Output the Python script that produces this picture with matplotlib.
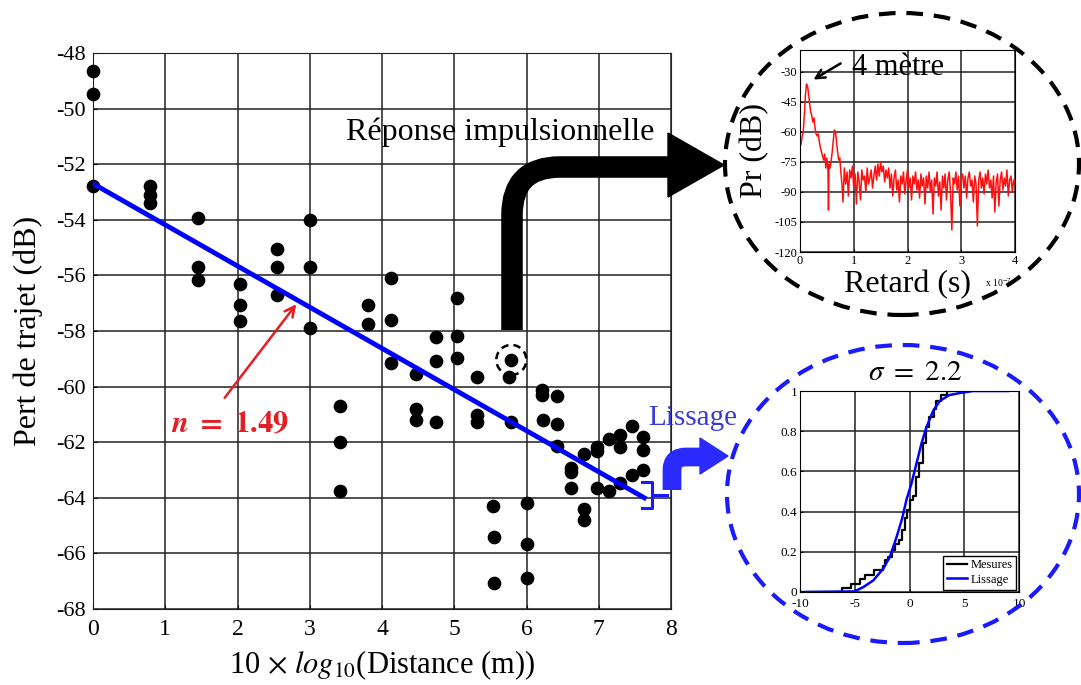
import numpy as np
import matplotlib
matplotlib.use('Agg')
import matplotlib.pyplot as plt
from matplotlib.patches import Ellipse, PathPatch, Polygon
from matplotlib.path import Path

plt.rcParams['font.family'] = 'serif'
plt.rcParams['font.serif'] = ['Liberation Serif', 'DejaVu Serif']
plt.rcParams['mathtext.fontset'] = 'stix'
plt.rcParams['axes.unicode_minus'] = False

W, H = 1081, 685

# --- main scatter : path loss vs 10*log10(distance)
dist = [0.0, 0.0, 0.0, 0.79, 0.79, 0.79, 1.46, 1.46, 1.46, 2.04, 2.04, 2.04,
        2.55, 2.55, 2.55, 3.01, 3.01, 3.01, 3.8, 3.8, 4.13, 4.13, 4.13,
        5.04, 4.75, 5.04, 4.75, 5.04, 4.47, 5.31, 5.79, 5.76,
        3.42, 3.42, 3.42, 4.47, 4.47, 4.75, 5.31, 5.31, 5.78,
        6.21, 6.21, 6.42, 6.23, 6.42, 6.42, 6.61, 6.61, 6.61,
        6.79, 6.97, 6.97, 7.14, 7.3, 7.3, 7.46, 7.61, 7.61, 7.61, 7.46,
        6.98, 7.14, 7.3, 5.54, 6.01, 6.8, 6.8, 5.55, 6.01, 5.55, 6.01]
loss = [-48.64, -49.47, -52.77, -52.77, -53.1, -53.4, -53.95, -55.68, -56.17,
        -56.3, -57.07, -57.64, -55.05, -55.68, -56.7, -54.0, -55.68, -57.9,
        -57.07, -57.75, -56.08, -57.6, -59.16, -56.8, -58.2, -58.17, -59.08,
        -58.96, -59.55, -59.67, -59.04, -59.67, -60.7, -61.98, -63.74,
        -60.82, -61.2, -61.26, -61.02, -61.26, -61.26, -60.12, -60.3, -60.33,
        -61.2, -61.35, -62.12, -62.94, -63.06, -63.66, -62.42, -62.16, -62.3,
        -61.9, -61.74, -62.16, -61.42, -61.8, -62.28, -63.0, -63.18, -63.63,
        -63.76, -63.48, -64.3, -64.2, -64.41, -64.8, -65.4, -65.66, -67.05,
        -66.87]
fit_x = [0.0, 7.63]
fit_y = [-52.7, -64.0]
picked = (5.79, -59.04)

# --- impulse response (delay in 1e-7 s, power in dB)
sig_x_a = [0.00, 0.02, 0.04, 0.06, 0.08, 0.10, 0.12, 0.14, 0.16, 0.18, 0.20,
           0.22, 0.24, 0.26, 0.28, 0.30, 0.32, 0.34, 0.36, 0.38, 0.40, 0.42,
           0.44, 0.46, 0.48, 0.50, 0.52, 0.53, 0.54, 0.56, 0.58, 0.60, 0.62,
           0.64, 0.66, 0.68, 0.70, 0.72, 0.74, 0.76, 0.78, 0.80]
sig_y_a = [-67, -66, -62, -60, -52, -42, -36, -37, -41, -46, -50, -52, -55,
           -53, -58, -61, -62, -61, -65, -68, -70, -72, -74, -71, -78, -73,
           -79, -99, -76, -78, -74, -70, -64, -59, -60, -65, -70, -74, -73,
           -80, -86, -95]
sig_y_b = [-78, -86, -80, -92, -79, -83, -77, -88, -81, -96, -80, -85, -94,
           -79, -84, -82, -90, -78, -86, -83, -79, -88, -82, -77, -84, -76,
           -82, -75, -80, -77, -85, -79, -83, -78, -88, -81, -92, -83, -79,
           -89, -84, -95, -82, -86, -80, -91, -84, -79, -88, -83, -94, -82,
           -86, -80, -89, -84, -93, -81, -87, -83, -96, -82, -88, -80, -90,
           -84, -101, -83, -87, -80, -92, -85, -99, -82, -88, -81, -94, -84,
           -80, -90, -109, -83, -86, -80, -89, -82, -97, -84, -81, -88, -82,
           -93, -83, -80, -87, -84, -95, -82, -86, -107, -84, -80, -88, -83,
           -91, -81, -86, -79, -88, -84, -93, -82, -100, -85, -81, -97, -84,
           -80, -89, -83, -87, -79, -92, -84, -82, -90, -84, -86]
sig_x_b = np.linspace(0.825, 4.0, len(sig_y_b))

# --- shadowing CDF
meas_x = [-10, -6.2, -5.4, -5.3, -4.5, -4.1, -3.2, -2.4, -2.2, -1.95, -1.6,
          -1.3, -1.0, -0.7, -0.4, -0.27, 0.03, 0.33, 0.6, 0.9, 1.2, 1.5, 1.8,
          2.2, 2.45, 2.9, 3.4, 4.0]
meas_y = [0, 0.02, 0.02, 0.04, 0.066, 0.083, 0.108, 0.13, 0.158, 0.174, 0.21,
          0.24, 0.26, 0.31, 0.37, 0.41, 0.46, 0.48, 0.57, 0.64, 0.74, 0.82,
          0.87, 0.91, 0.95, 0.98, 1.0, 1.0]
smooth_x = [-9.5, -5.0, -4.2, -3.3, -2.4, -1.8, -1.2, -0.7, -0.27, 0.18, 0.64,
            1.1, 1.55, 2.15, 2.75, 3.65, 4.6, 5.8, 9.0]
smooth_y = [0.0, 0.003, 0.025, 0.058, 0.116, 0.174, 0.27, 0.36, 0.46, 0.54,
            0.64, 0.74, 0.82, 0.90, 0.95, 0.98, 0.99, 1.0, 1.0]


def fp(px, py):
    # pixel (from top left) -> figure fraction
    return px / W, 1 - py / H


fig = plt.figure(figsize=(W / 100, H / 100), dpi=100)
tf = fig.transFigure

# ---------------- main axes
ax = fig.add_axes([93 / W, 1 - 609 / H, 578 / W, 556 / H])
ax.scatter(dist, loss, s=78, color='k', zorder=3, clip_on=False)
ax.plot(fit_x, fit_y, color='#0000ff', lw=3.5, zorder=4)
ax.set_xlim(0, 8)
ax.set_ylim(-68, -48)
ax.set_xticks(range(0, 9))
ax.set_yticks(range(-68, -47, 2))
ax.grid(True, color='#222222', lw=1.1)
ax.set_axisbelow(True)
ax.tick_params(direction='in', length=3, color='k')
ax.tick_params(axis='y', labelsize=16, pad=5)
ax.tick_params(axis='x', labelsize=17, pad=7)
for sp in ax.spines.values():
    sp.set_color('#222222')
ax.set_ylabel('Pert de trajet (dB)', fontsize=23, labelpad=10)
ax.set_xlabel(r'10 $\times$ $log_{10}$(Distance (m))', fontsize=22, labelpad=6)

# dashed ring around the picked point
cx, cy = ax.transData.transform(picked)
fig.add_artist(Ellipse((cx / W, cy / H), 30 / W, 30 / H, transform=tf,
                       fill=False, ec='k', lw=1.8, ls=(0, (3, 2)), zorder=5))

# n = 1.49 annotation
fig.text(*fp(171, 432), r'$\mathbfit{n}\ \mathbf{=\ 1.49}$', color='#e31e24',
         fontsize=22, va='baseline')
ax.annotate('', xy=fp(298, 302), xytext=fp(223, 400), xycoords=tf, textcoords=tf,
            arrowprops=dict(arrowstyle='->', color='#e31e24', lw=1.8,
                            mutation_scale=18))

# black bent arrow to the impulse response
fig.text(*fp(500, 132), 'Réponse impulsionnelle', fontsize=23, ha='center',
         va='center')
verts = [fp(512, 330), fp(512, 215), fp(512, 167), fp(560, 167), fp(670, 167)]
codes = [Path.MOVETO, Path.LINETO, Path.CURVE3, Path.CURVE3, Path.LINETO]
fig.add_artist(PathPatch(Path(verts, codes), transform=tf, fill=False, ec='k',
                         lw=15.5, capstyle='butt', joinstyle='round'))
fig.add_artist(Polygon([fp(668, 133), fp(724, 165), fp(668, 197)], closed=True,
                       transform=tf, fc='k', ec='k'))

# blue bracket and bent arrow to the CDF
fig.add_artist(plt.Line2D(*zip(fp(642, 482), fp(652, 482), fp(652, 508), fp(642, 508)),
                          transform=tf, color='#1a1aff', lw=2.2))
fig.add_artist(plt.Line2D(*zip(fp(652, 495), fp(667, 495)), transform=tf,
                          color='#1a1aff', lw=2.2))
verts = [fp(672, 490), fp(672, 470), fp(672, 457), fp(686, 457), fp(702, 457)]
fig.add_artist(PathPatch(Path(verts, codes), transform=tf, fill=False,
                         ec='#2a2aff', lw=13.5, capstyle='butt'))
fig.add_artist(Polygon([fp(700, 438), fp(728, 456), fp(700, 474)], closed=True,
                       transform=tf, fc='#2a2aff', ec='#2a2aff'))
fig.text(*fp(648, 425), 'Lissage', color='#3a3ad6', fontsize=21, va='baseline')

# ---------------- impulse response inset
fig.add_artist(Ellipse(fp(902, 164), 354 / W, 302 / H, transform=tf, fill=False,
                       ec='k', lw=3, ls=(0, (4, 2.6))))
ax1 = fig.add_axes([800 / W, 1 - 252 / H, 215 / W, 202 / H])
ax1.plot(np.concatenate([sig_x_a, sig_x_b]), np.concatenate([sig_y_a, sig_y_b]),
         color='#ff1010', lw=1.1)
ax1.set_xlim(0, 4)
ax1.set_ylim(-120, -19)
ax1.set_xticks(range(0, 5))
ax1.set_yticks(range(-120, -29, 15))
ax1.grid(True, color='#222222', lw=1.1)
ax1.tick_params(direction='in', length=2, labelsize=9, pad=2)
ax1.set_ylabel('Pr (dB)', fontsize=23, labelpad=4)
ax1.set_xlabel('Retard (s)', fontsize=23, labelpad=2)
fig.text(*fp(985, 287), r'x 10$^{-7}$', fontsize=7)
fig.text(*fp(852, 75), '4 mètre', fontsize=22, va='baseline')
ax1.annotate('', xy=fp(811, 81), xytext=fp(843, 62), xycoords=tf, textcoords=tf,
             arrowprops=dict(arrowstyle='->', color='k', lw=1.8, mutation_scale=16))

# ---------------- CDF inset
fig.add_artist(Ellipse(fp(903, 494), 352 / W, 298 / H, transform=tf, fill=False,
                       ec='#1a1aff', lw=3, ls=(0, (4, 2.6))))
ax2 = fig.add_axes([800 / W, 1 - 592 / H, 219 / W, 201 / H])
ax2.step(meas_x, meas_y, where='post', color='k', lw=1.6, label='Mesures')
ax2.plot(smooth_x, smooth_y, color='#0000ff', lw=1.8, label='Lissage')
ax2.set_xlim(-10, 10)
ax2.set_ylim(0, 1)
ax2.set_xticks([-10, -5, 0, 5, 10])
ax2.set_yticks([0, 0.2, 0.4, 0.6, 0.8, 1])
ax2.set_yticklabels(['0', '0.2', '0.4', '0.6', '0.8', '1'])
ax2.grid(True, color='#222222', lw=1.1)
ax2.tick_params(direction='in', length=2, labelsize=9.5, pad=2)
ax2.tick_params(axis='x', pad=4)
leg = ax2.legend(loc='lower right', fontsize=9, fancybox=False, framealpha=1,
                 edgecolor='k', borderaxespad=0.2, handlelength=1.6,
                 handletextpad=0.3, borderpad=0.3, labelspacing=0.2)
fig.text(*fp(915, 373), r'$\sigma\ =\ 2.2$', fontsize=21, ha='center', va='center')

fig.savefig('out.png', dpi=100)
